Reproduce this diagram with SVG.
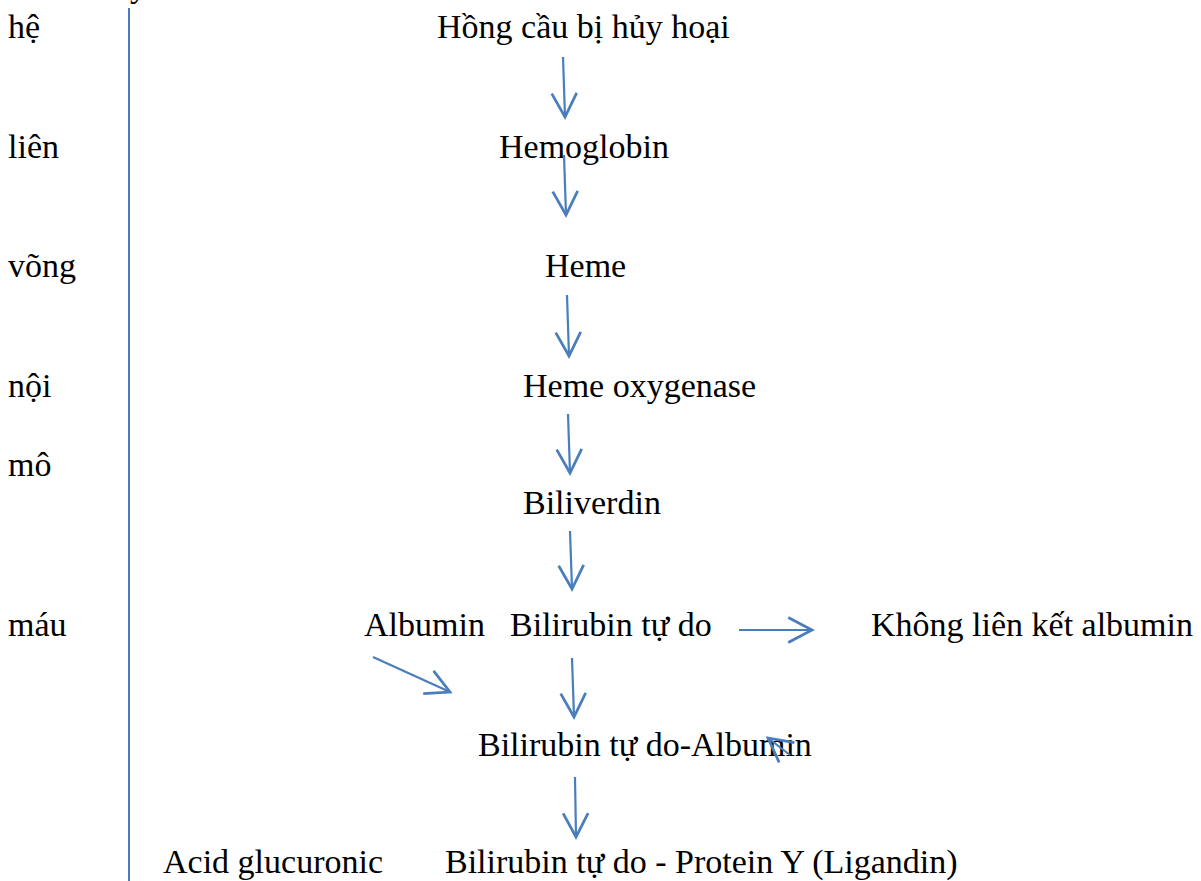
<svg xmlns="http://www.w3.org/2000/svg" width="1201" height="881" viewBox="0 0 1201 881">
<style>
text{font-family:"Liberation Serif","Times New Roman",serif;font-size:34px;fill:#000}
.c line{stroke:#4a7ebb;stroke-width:2.2;fill:none}
</style>
<defs>
<marker id="ah" markerUnits="userSpaceOnUse" markerWidth="30" markerHeight="30" viewBox="-20 -12 24 24" refX="0" refY="0" orient="auto">
<path d="M-19,-10 L0,0 L-19,10" fill="none" stroke="#4a7ebb" stroke-width="2.2"/>
</marker>
</defs>
<rect width="1201" height="881" fill="#fff"/>
<line x1="129" y1="8" x2="129" y2="881" stroke="#4a7ebb" stroke-width="2"/>
<text x="130" y="-3">y</text>
<g id="side">
<text x="8" y="38">hệ</text>
<text x="8" y="158">liên</text>
<text x="8" y="277">võng</text>
<text x="8" y="397">nội</text>
<text x="8" y="476">mô</text>
<text x="8" y="636">máu</text>
</g>
<g id="n1"><text x="437" y="38">Hồng cầu bị hủy hoại</text></g>
<g id="n2"><text x="499" y="158">Hemoglobin</text></g>
<g id="n3"><text x="545" y="277">Heme</text></g>
<g id="n4"><text x="523" y="397">Heme oxygenase</text></g>
<g id="n5"><text x="523" y="514">Biliverdin</text></g>
<g id="n6"><text x="364" y="636">Albumin</text></g>
<g id="n7"><text x="510" y="636">Bilirubin tự do</text></g>
<g id="n8"><text x="871" y="636">Không liên kết albumin</text></g>
<g id="n9"><text x="478" y="756">Bilirubin tự do-Albumin</text></g>
<g id="n10"><text x="163" y="873">Acid glucuronic</text></g>
<g id="n11"><text x="445" y="873">Bilirubin tự do - Protein Y (Ligandin)</text></g>
<g class="c" id="connectors" marker-end="url(#ah)">
<line x1="563" y1="57" x2="565" y2="117" marker-end="url(#ah)"/>
<line x1="564" y1="155" x2="566" y2="215" marker-end="url(#ah)"/>
<line x1="567" y1="295" x2="569" y2="356" marker-end="url(#ah)"/>
<line x1="568" y1="414" x2="570" y2="473" marker-end="url(#ah)"/>
<line x1="570" y1="531" x2="572" y2="589" marker-end="url(#ah)"/>
<line x1="739" y1="630" x2="812" y2="630" marker-end="url(#ah)"/>
<line x1="373" y1="657" x2="450" y2="692" marker-end="url(#ah)"/>
<line x1="572" y1="658" x2="574" y2="717" marker-end="url(#ah)"/>
<line x1="790" y1="755" x2="768" y2="738" marker-end="url(#ah)"/>
<line x1="575" y1="777" x2="576" y2="837" marker-end="url(#ah)"/>
</g>
</svg>
